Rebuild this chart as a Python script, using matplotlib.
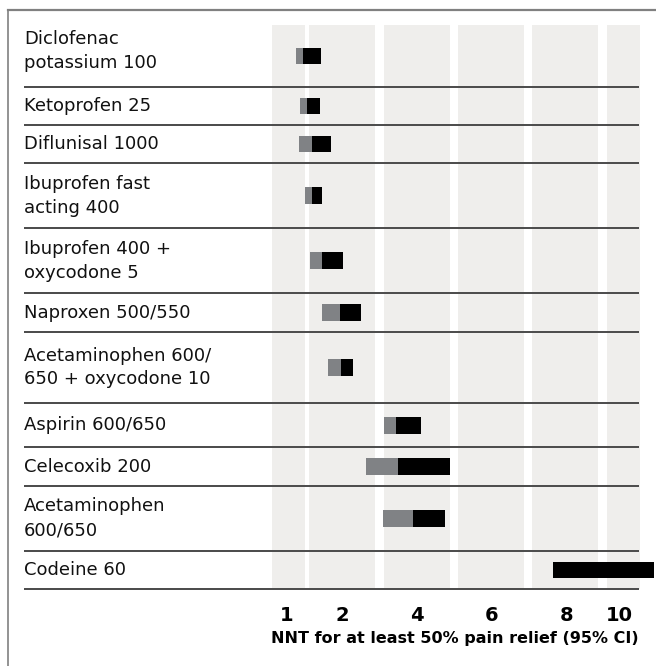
import matplotlib
matplotlib.use("Agg")
import matplotlib.pyplot as plt
from matplotlib.lines import Line2D
import numpy as np

plt.rcParams['font.family'] = ['DejaVu Sans']

# drugs, top to bottom
drugs = ["Diclofenac\npotassium 100", "Ketoprofen 25", "Diflunisal 1000",
         "Ibuprofen fast\nacting 400", "Ibuprofen 400 +\noxycodone 5",
         "Naproxen 500/550", "Acetaminophen 600/\n650 + oxycodone 10",
         "Aspirin 600/650", "Celecoxib 200", "Acetaminophen\n600/650",
         "Codeine 60"]
# NNT lower CI, point estimate, upper CI
ci_low = [0.76, 0.87, 0.84, 1.00, 1.14, 1.46, 1.62, 3.11, 2.63, 3.09, 7.63]
nnt = [0.95, 1.06, 1.19, 1.19, 1.46, 1.94, 1.97, 3.44, 3.49, 3.89, 7.63]
ci_high = [1.43, 1.40, 1.70, 1.46, 2.02, 2.50, 2.29, 4.10, 4.88, 4.75, 10.33]

tick_pos = [0.5, 2, 4, 6, 8, 9.4]
tick_labels = ["1", "2", "4", "6", "8", "10"]
band_edges = [(0.12, 1.0), (1.11, 2.87), (3.11, 4.88), (5.09, 6.86),
              (7.07, 8.84), (9.08, 9.96)]

# row boundaries in pixels (top of figure = 0)
row_lines = [25, 86.7, 125, 163.3, 228.3, 293.3, 331.7, 403.3, 447.3,
             485.7, 550.7, 589]

W, H = 656, 666
fig = plt.figure(figsize=(W / 100, H / 100), dpi=100)
x0, ppu = 267.5, 37.4   # pixel of 0 and pixels per unit
ax = fig.add_axes([x0 / W, (H - 589) / H, (W - x0) / W, (589 - 25) / H])
ax.set_xlim(0, (W - x0) / ppu)
ax.set_ylim(589, 25)

for a, b in band_edges:
    ax.axvspan(a, b, color="#efeeec", lw=0, zorder=0)

centers = [(row_lines[i] + row_lines[i + 1]) / 2 for i in range(len(drugs))]
lo = np.array(ci_low)
mid = np.array(nnt)
hi = np.array(ci_high)
ax.barh(centers, mid - lo, left=lo, height=16.7, color="#808285", lw=0, zorder=2)
ax.barh(centers, hi - mid, left=mid, height=16.7, color="black", lw=0,
        zorder=3, clip_on=False)

ax.hlines(row_lines[1:], (24 - x0) / ppu, (639 - x0) / ppu, color="#4a4a4a",
          lw=1.4, clip_on=False, zorder=4)

for i, (name, c) in enumerate(zip(drugs, centers)):
    if i == 0:
        c -= 5   # first label sits a little higher in its row
    fig.text(24 / W, 1 - c / H, name, ha="left", va="center", fontsize=13,
             linespacing=1.42, color="#111111")

ax.set_xticks(tick_pos)
ax.set_xticklabels(tick_labels, fontsize=14, fontweight="bold")
ax.tick_params(axis="x", length=0, pad=12)
ax.set_yticks([])
for s in ax.spines.values():
    s.set_visible(False)

fig.text(454.5 / W, 1 - 639 / H, "NNT for at least 50% pain relief (95% CI)",
         ha="center", va="center", fontsize=11.5, fontweight="semibold")

# frame lines at top and left
fig.add_artist(Line2D([7.5 / W, 7.5 / W], [0, 1 - 10 / H], color="#808080",
                      lw=1.2, transform=fig.transFigure))
fig.add_artist(Line2D([7.5 / W, 1], [1 - 10 / H, 1 - 10 / H], color="#808080",
                      lw=1.6, transform=fig.transFigure))

fig.savefig("out.png", dpi=100)
